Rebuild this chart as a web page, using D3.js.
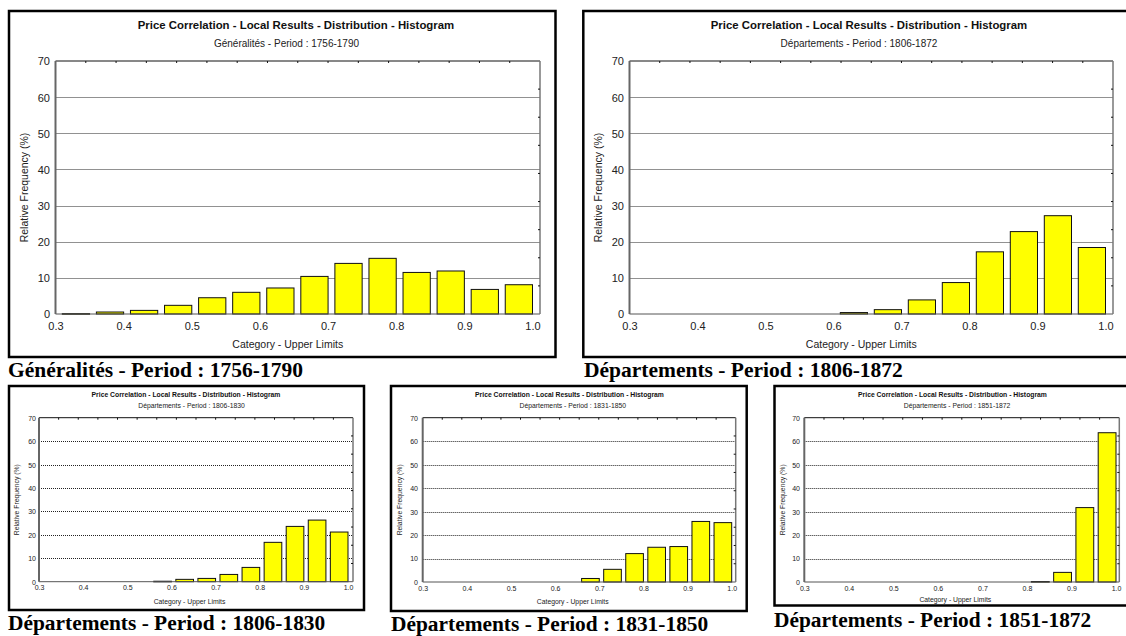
<!DOCTYPE html>
<html>
<head>
<meta charset="utf-8">
<script src="https://cdn.jsdelivr.net/npm/d3@7"></script>
<style>
  html, body { margin: 0; padding: 0; background: #fff; }
  svg { display: block; }
</style>
</head>
<body>
<svg id="chart" width="1126" height="636"></svg>
<script>
// ---- Data ---------------------------------------------------------------
const chartTitle = "Price Correlation - Local Results - Distribution - Histogram";
const xAxisTitle = "Category - Upper Limits";
const yAxisTitle = "Relative Frequency (%)";

// Upper limits of the 0.05-wide correlation classes
const upperLimits = [0.35, 0.40, 0.45, 0.50, 0.55, 0.60, 0.65, 0.70, 0.75, 0.80, 0.85, 0.90, 0.95, 1.00];
const xTickValues = [0.3, 0.4, 0.5, 0.6, 0.7, 0.8, 0.9, 1.0];
const yTickValues = [0, 10, 20, 30, 40, 50, 60, 70];

// Relative frequency (%) per class
const freqGeneralites1756_1790  = [0.1, 0.55, 1.0, 2.4, 4.5, 6.0, 7.2, 10.4, 14.0, 15.4, 11.5, 11.9, 6.8, 8.1];
const freqDepartements1806_1872 = [0, 0, 0, 0, 0, 0, 0.4, 1.2, 3.9, 8.7, 17.2, 22.8, 27.2, 18.4];
const freqDepartements1806_1830 = [0, 0, 0, 0, 0, 0.2, 1.0, 1.4, 3.1, 6.1, 16.8, 23.6, 26.3, 21.2];
const freqDepartements1831_1850 = [0, 0, 0, 0, 0, 0, 0, 1.5, 5.4, 12.1, 14.8, 15.1, 25.8, 25.3];
const freqDepartements1851_1872 = [0, 0, 0, 0, 0, 0, 0, 0, 0, 0, 0.2, 4.1, 31.7, 63.6];

const periodLabels = [
  "Généralités - Period : 1756-1790",
  "Départements - Period : 1806-1872",
  "Départements - Period : 1806-1830",
  "Départements - Period : 1831-1850",
  "Départements - Period : 1851-1872"
];
const seriesList = [
  freqGeneralites1756_1790,
  freqDepartements1806_1872,
  freqDepartements1806_1830,
  freqDepartements1831_1850,
  freqDepartements1851_1872
];

// ---- Layout of the five framed charts ----------------------------------
const binWidth = 0.05;
const barFraction = 0.8;

const layouts = [
  { frame: [9, 11, 546.5, 346], x03: 55.5, x10: 532.5, right: 540, y0: 314, y70: 61,
    title: [296, 25, 11.4], sub: [286.5, 43, 10], tick: 11, xTickY: 326, yTickRight: 50,
    axisFont: 10.5, xLabelY: 344, yLabelX: 24, caption: [8, 376.5, 21.5], topDiv: 16, rightDiv: 9 },
  { frame: [583.3, 11, 560, 346], x03: 629.5, x10: 1105.5, right: 1113, y0: 314, y70: 61,
    title: [869, 25, 11.4], sub: [859, 43, 10], tick: 11, xTickY: 326, yTickRight: 624,
    axisFont: 10.5, xLabelY: 344, yLabelX: 598, caption: [584, 376.5, 21.5], topDiv: 16, rightDiv: 9 },
  { frame: [9, 386, 355, 224], x03: 39, x10: 348, right: 353, y0: 581.7, y70: 417.7,
    title: [186, 394.3, 6.8], sub: [191.5, 405.7, 6.8], tick: 7, xTickY: 588, yTickRight: 36,
    axisFont: 6.8, xLabelY: 601.7, yLabelX: 17, caption: [8, 630, 21.4], topDiv: 16, rightDiv: 9 },
  { frame: [391, 386, 355.7, 225], x03: 422.7, x10: 731.7, right: 735.7, y0: 582, y70: 417.7,
    title: [569.5, 394.3, 6.8], sub: [572.8, 405.7, 6.8], tick: 7, xTickY: 588.5, yTickRight: 418,
    axisFont: 6.8, xLabelY: 601.7, yLabelX: 400, caption: [391, 630.5, 21.4], topDiv: 16, rightDiv: 9 },
  { frame: [774.5, 386, 355, 219.5], x03: 804.3, x10: 1116, right: 1119.3, y0: 582, y70: 417.7,
    title: [952.5, 395, 6.8], sub: [957, 405.7, 6.8], tick: 7, xTickY: 588.5, yTickRight: 800,
    axisFont: 6.8, xLabelY: 599.3, yLabelX: 782.7, caption: [774, 627, 21.4], topDiv: 16, rightDiv: 9 }
];

const sans = "'Liberation Sans', Arial, Helvetica, sans-serif";
const serif = "'Liberation Serif', 'Times New Roman', serif";
const svg = d3.select("#chart");

function drawPanel(values, period, L) {
  const g = svg.append("g");
  const x = d3.scaleLinear().domain([0.3, 1.0]).range([L.x03, L.x10]);
  const y = d3.scaleLinear().domain([0, 70]).range([L.y0, L.y70]);
  const left = x(0.3), right = L.right, top = y(70), bottom = y(0);

  // outer frame
  g.append("rect")
    .attr("x", L.frame[0]).attr("y", L.frame[1])
    .attr("width", L.frame[2]).attr("height", L.frame[3])
    .attr("fill", "none").attr("stroke", "#000").attr("stroke-width", 2.5);

  // titles
  g.append("text").attr("x", L.title[0]).attr("y", L.title[1]).attr("dy", "0.35em")
    .attr("text-anchor", "middle").attr("font-family", sans).attr("font-weight", "bold")
    .attr("font-size", L.title[2]).attr("fill", "#111").text(chartTitle);
  g.append("text").attr("x", L.sub[0]).attr("y", L.sub[1]).attr("dy", "0.35em")
    .attr("text-anchor", "middle").attr("font-family", sans)
    .attr("font-size", L.sub[2]).attr("fill", "#222").text(period);

  // dotted horizontal grid
  g.append("g").selectAll("line")
    .data(yTickValues.filter(v => v > 0 && v < 70))
    .join("line")
    .attr("x1", left).attr("x2", right)
    .attr("y1", d => Math.round(y(d)) + 0.5).attr("y2", d => Math.round(y(d)) + 0.5)
    .attr("stroke", "#222").attr("stroke-width", 1).attr("stroke-dasharray", "1,1");

  // bars
  const bars = upperLimits.map((u, i) => ({ u, v: values[i] })).filter(d => d.v > 0);
  g.append("g").selectAll("rect")
    .data(bars)
    .join("rect")
    .attr("x", d => x(d.u - binWidth * barFraction))
    .attr("width", d => x(d.u) - x(d.u - binWidth * barFraction))
    .attr("y", d => y(d.v))
    .attr("height", d => Math.max(0.6, y(0) - y(d.v)))
    .attr("fill", "#ffff00").attr("stroke", "#111").attr("stroke-width", 1);

  // plot box: top (black), left and right (grey), bottom baseline
  g.append("line").attr("x1", left).attr("x2", right).attr("y1", top).attr("y2", top)
    .attr("stroke", "#111").attr("stroke-width", 1);
  g.append("line").attr("x1", left).attr("x2", right).attr("y1", bottom).attr("y2", bottom)
    .attr("stroke", "#555").attr("stroke-width", 1);
  g.append("line").attr("x1", left).attr("x2", left).attr("y1", top).attr("y2", bottom)
    .attr("stroke", "#666").attr("stroke-width", 2);
  g.append("line").attr("x1", right).attr("x2", right).attr("y1", top).attr("y2", bottom)
    .attr("stroke", "#777").attr("stroke-width", 1.5);

  // small inner tick marks along the top and right edges
  const tx = d3.range(1, L.topDiv).map(i => left + (right - left) * i / L.topDiv);
  g.append("g").selectAll("line").data(tx).join("line")
    .attr("x1", d => d).attr("x2", d => d).attr("y1", top).attr("y2", top + 2)
    .attr("stroke", "#111").attr("stroke-width", 1);
  const ty = d3.range(1, L.rightDiv).map(i => top + (bottom - top) * i / L.rightDiv);
  g.append("g").selectAll("line").data(ty).join("line")
    .attr("x1", right - 2).attr("x2", right).attr("y1", d => d).attr("y2", d => d)
    .attr("stroke", "#111").attr("stroke-width", 1);

  // axis labels via d3 axes
  const xAxis = g.append("g")
    .attr("transform", `translate(0,${L.xTickY})`)
    .call(d3.axisBottom(x).tickValues(xTickValues).tickFormat(d3.format(".1f")).tickSize(0).tickPadding(0));
  xAxis.select(".domain").remove();
  xAxis.selectAll("text").attr("y", 0).attr("dy", "0.35em")
    .attr("font-family", sans).attr("font-size", L.tick).attr("fill", "#222");

  const yAxis = g.append("g")
    .attr("transform", `translate(${L.yTickRight},0)`)
    .call(d3.axisLeft(y).tickValues(yTickValues).tickSize(0).tickPadding(0));
  yAxis.select(".domain").remove();
  yAxis.selectAll("text").attr("x", 0).attr("dy", "0.35em")
    .attr("font-family", sans).attr("font-size", L.tick).attr("fill", "#222");

  g.append("text").attr("x", (left + right) / 2 - 10 * L.axisFont / 10.5).attr("y", L.xLabelY).attr("dy", "0.35em")
    .attr("text-anchor", "middle").attr("font-family", sans).attr("font-size", L.axisFont)
    .attr("fill", "#222").text(xAxisTitle);
  g.append("text")
    .attr("transform", `translate(${L.yLabelX},${(top + bottom) / 2}) rotate(-90)`)
    .attr("dy", "0.35em").attr("text-anchor", "middle").attr("font-family", sans)
    .attr("font-size", L.axisFont).attr("fill", "#222").text(yAxisTitle);

  // caption below the frame
  svg.append("text").attr("x", L.caption[0]).attr("y", L.caption[1])
    .attr("font-family", serif).attr("font-weight", "bold").attr("font-size", L.caption[2])
    .attr("fill", "#000").text(period);
}

seriesList.forEach((vals, i) => drawPanel(vals, periodLabels[i], layouts[i]));
</script>
</body>
</html>
